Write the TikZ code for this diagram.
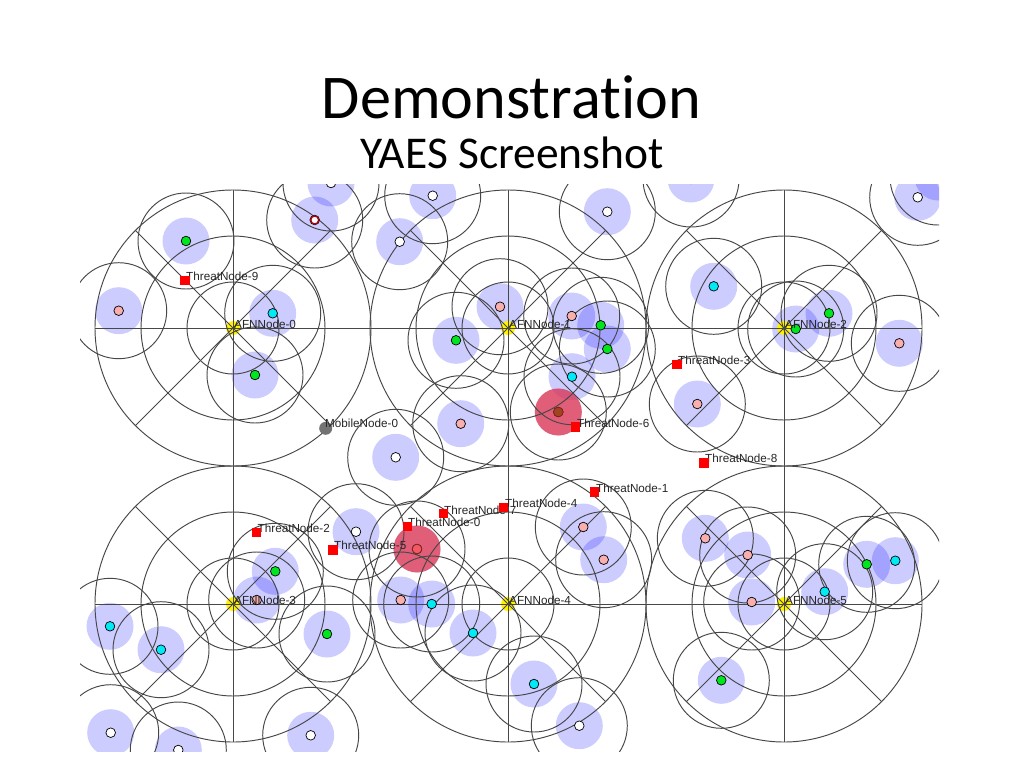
\documentclass[tikz,border=0pt]{standalone}
\usepackage{fontspec}
\setmainfont[Ligatures={NoCommon,NoRequired,NoContextual}]{Carlito}
\newfontfamily\labelfont{Liberation Sans}
\tikzset{
  x=1pt,y=-1pt,
  linecol/.style={draw=black!72,line width=0.95pt},
  coverage/.style={fill=blue,fill opacity=0.2,draw=none},
  kill/.style={fill={rgb,255:red,232;green,60;blue,80},fill opacity=0.76,draw=none},
  sensordot/.style={circle,draw=black,line width=0.7pt,minimum size=9.6pt,inner sep=0pt,fill=#1},
  threat/.style={rectangle,fill=red,draw=none,minimum size=9.5pt,inner sep=0pt},
  mobile/.style={circle,fill=black!55,draw=none,minimum size=13pt,inner sep=0pt},
  hub/.style={circle,fill=yellow,draw=none,minimum size=14pt,inner sep=0pt},
  tag/.style={font=\labelfont\fontsize{11.7}{12}\selectfont,text=black!85,inner sep=0pt,anchor=west},
  title/.style={font=\fontsize{62.2}{63}\selectfont,text=black,inner sep=0pt},
  subtitle/.style={font=\fontsize{45.5}{46}\selectfont,text=black,inner sep=0pt},
}
\definecolor{pinkdot}{RGB}{250,175,175}
\definecolor{greendot}{RGB}{0,230,30}
\definecolor{cyandot}{RGB}{0,235,245}
\definecolor{browndot}{RGB}{160,70,30}
\definecolor{reddot}{RGB}{240,90,100}
\definecolor{darkring}{RGB}{140,30,30}
\newcommand{\sensorlist}{%
 186/241/greendot, 118.7/310.7/pinkdot, 272.7/313.3/cyandot, 255/375/greendot,
 314.7/220/white, 331/183/white, 432.7/195.7/white, 399.7/241.7/white,
 607.3/211.7/white, 500/306.7/pinkdot, 456/340.3/greendot, 571.7/316/pinkdot,
 600.7/325.3/greendot, 607.3/349/greendot, 572/376.7/cyandot, 558.3/412/browndot,
 460.7/423.7/pinkdot, 395.7/457.3/white, 691/179/white, 917.7/197.3/white,
 938/177/white, 713.7/286.3/cyandot, 829/313.3/greendot, 795.7/329/greendot,
 899.3/343.3/pinkdot, 697.3/404/pinkdot, 275.3/571.3/greendot, 256.7/600/pinkdot,
 327/634/greendot, 110/626.3/cyandot, 161/649.7/cyandot, 110.7/732.7/white,
 178.3/750/white, 310.7/735.3/white, 356/531.7/white, 417/549/reddot,
 400.7/600/pinkdot, 431.7/604/cyandot, 473/633/cyandot, 534/684/cyandot,
 579.3/725.7/white, 583.3/527/pinkdot, 603.7/559.7/pinkdot, 705.3/538.3/pinkdot,
 747.7/555/pinkdot, 751.7/602/pinkdot, 824.7/591.7/cyandot, 866.7/564.3/greendot,
 895.3/560.7/cyandot, 721.3/680.3/greendot}
\newcommand{\hublist}{0/233/328,1/508/328,2/784/328,3/233/604,4/508/604,5/784/604}
\begin{document}
\begin{tikzpicture}
\useasboundingbox (0,0) rectangle (1024,768);
\fill[white] (0,0) rectangle (1024,768);
\node[title] (maintitle) at (511.5,97) {Demonstration};
\node[subtitle] (subtitle) at (512,153) {YAES Screenshot};
\begin{scope}
\clip (80,184) rectangle (939,751);
% coverage disks
\foreach \x/\y/\c in \sensorlist { \fill[coverage] (\x,\y) circle[radius=23.5]; }
\fill[kill] (558.3,412) circle[radius=23.5];
\fill[kill] (417,549) circle[radius=23.5];
% hub yellow disks below the lines
\foreach \n/\x/\y in \hublist { \node[hub] (star\n) at (\x,\y) {}; }
% sensing circles
\foreach \x/\y/\c in \sensorlist { \draw[linecol] (\x,\y) circle[radius=48]; }
% hub patterns
\foreach \n/\x/\y in \hublist {
  \coordinate (hub\n) at (\x,\y);
  \draw[linecol] (hub\n) circle[radius=46];
  \draw[linecol] (hub\n) circle[radius=92];
  \draw[linecol] (hub\n) circle[radius=138];
  \draw[linecol] ([xshift=-138pt]hub\n) -- ([xshift=138pt]hub\n);
  \draw[linecol] ([yshift=-138pt]hub\n) -- ([yshift=138pt]hub\n);
  \draw[linecol] ([shift={(-97.6pt,-97.6pt)}]hub\n) -- ([shift={(97.6pt,97.6pt)}]hub\n);
  \draw[linecol] ([shift={(-97.6pt,97.6pt)}]hub\n) -- ([shift={(97.6pt,-97.6pt)}]hub\n);
}
% sensors
\foreach \x/\y/\c [count=\i] in \sensorlist { \node[sensordot=\c] (s\i) at (\x,\y) {}; }
\node[circle,draw={rgb,255:red,170;green,0;blue,10},line width=1.4pt,fill=white,minimum size=8pt,inner sep=0pt] (hot) at (314.7,220) {};
\node[sensordot=browndot,draw=darkring] (hitA) at (558.3,412) {};
\node[sensordot=reddot,draw=darkring] (hitB) at (417,549) {};
% hub labels
\foreach \n/\x/\y in \hublist {
  \node[tag] (afn\n) at (\x+1,\y-4) {AFNNode-\n};
}
\node[mobile] (mob) at (325.7,428.3) {};
\node[tag] (mobtag) at (325,423.5) {MobileNode-0};
% threat labels
\node[tag] (l9) at (186,276) {ThreatNode-9};
\node[tag] (l3) at (678,360.5) {ThreatNode-3};
\node[tag] (l6) at (577,423.5) {ThreatNode-6};
\node[tag] (l8) at (705,458.5) {ThreatNode-8};
\node[tag] (l1) at (596,488) {ThreatNode-1};
\node[tag] (l7) at (444,510.5) {ThreatNode-7};
\node[tag] (l4) at (505,503.5) {ThreatNode-4};
\node[tag] (l0) at (408,522.5) {ThreatNode-0};
\node[tag] (l5) at (334,545.5) {ThreatNode-5};
\node[tag] (l2) at (257.5,528.5) {ThreatNode-2};
% threats
\foreach \x/\y [count=\i] in {185/280.3,677/364.7,575.7/427,704/463,594.7/492,443.3/513.7,503.3/507.7,407.3/526.7,333/550,256.7/532.7}
  { \node[threat] (t\i) at (\x,\y) {}; }
\end{scope}
\end{tikzpicture}
\end{document}
